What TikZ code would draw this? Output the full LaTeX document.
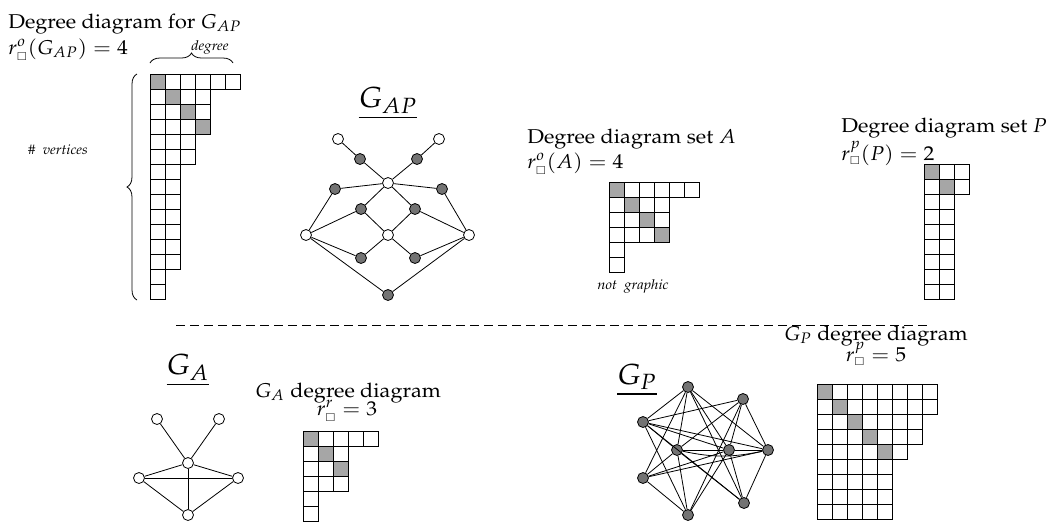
\documentclass[tikz,border=0pt]{standalone}
\usepackage[T1]{fontenc}
\usepackage{mathpazo}
\usepackage{amsmath,amssymb}
\usetikzlibrary{decorations.pathreplacing,calc}

% slightly wide text and the small box of the r index
\newcommand{\hs}[1]{\scalebox{1.08}[1]{#1}}
\newcommand{\sq}{\raisebox{-0.6pt}{\scalebox{0.55}{$\square$}}}

% degree diagram: x, y of top left corner, row lengths, number of diagonal cells
\newcommand{\degdiag}[4]{%
  \foreach \len [count=\r] in {#3} {
    \foreach \c in {1,...,\len}
      \draw[cell] (#1+\c*15-15,#2+\r*15-15) rectangle ++(15,15);
  }
  \foreach \i in {1,...,#4}
    \draw[diagcell] (#1+\i*15-15,#2+\i*15-15) rectangle ++(15,15);
}

\tikzset{
  wv/.style={circle,draw,fill=white,inner sep=0pt,minimum size=5.5pt},
  gv/.style={circle,draw,fill=black!55,inner sep=0pt,minimum size=5.5pt},
  cell/.style={line width=0.4pt},
  diagcell/.style={fill=black!35,line width=0.5pt},
  title/.style={font=\fontsize{10}{12}\selectfont,inner sep=0pt},
  glabel/.style={font=\fontsize{14.5}{16}\selectfont,inner sep=0pt},
  tinytext/.style={font=\fontsize{6.8}{7}\selectfont\itshape,inner sep=0pt},
}

\begin{document}
\begin{tikzpicture}[x=0.5pt,y=-0.5pt]
  \useasboundingbox (0,0) rectangle (1048,521);

  % degree diagram of G_AP
  \node[title,anchor=base west] (tap) at (8,28) {\hs{Degree diagram for $G_{AP}$}};
  \node[title,anchor=base west] (rap) at (8,54) {\hs{$r^{o}_{\sq}(G_{AP}) = 4$}};
  \degdiag{150}{74}{6,4,4,4,3,3,2,2,2,2,2,2,2,1,1}{4}
  \draw[decorate,decoration={brace,amplitude=5pt}] (150,63) -- (233,63);
  \node[tinytext] (deg) at (210,47) {\hs{degree}};
  \draw[decorate,decoration={brace,amplitude=5pt}] (137,300) -- (137,74);
  \node[tinytext] (nv) at (58,150) {\hs{\#\ \ vertices}};

  % graph G_AP
  \node[glabel] (gap) at (388,103) {\hs{\underline{$G_{AP}$}}};
  \node[wv] (tl) at (338,139) {};
  \node[wv] (tr) at (439,139) {};
  \node[gv] (ul) at (360,159) {};
  \node[gv] (ur) at (417,159) {};
  \node[wv] (ct) at (388,183) {};
  \node[gv] (sl) at (335,189) {};
  \node[gv] (sr) at (442,189) {};
  \node[gv] (ml) at (361,209) {};
  \node[gv] (mr) at (415,209) {};
  \node[wv] (lw) at (306,235) {};
  \node[wv] (cw) at (388,235) {};
  \node[wv] (rw) at (469,235) {};
  \node[gv] (ll) at (361,258) {};
  \node[gv] (lr) at (415,258) {};
  \node[gv] (bt) at (388,295) {};
  \foreach \a/\b in {tl/ul,ul/ct,tr/ur,ur/ct,ct/sl,ct/sr,ct/ml,ct/mr,
                     sl/lw,sr/rw,ml/lw,mr/rw,ml/cw,mr/cw,lw/ll,rw/lr,
                     ll/cw,lr/cw,lw/bt,rw/bt}
    \draw (\a) -- (\b);

  % set A
  \node[title,anchor=base west] (ta) at (527,143) {\hs{Degree diagram set $A$}};
  \node[title,anchor=base west] (ra) at (527,168) {\hs{$r^{o}_{\sq}(A) = 4$}};
  \degdiag{609}{182}{6,4,4,4,1,1}{4}
  \node[tinytext] (ng) at (633,286) {\hs{not\ \ graphic}};

  % set P
  \node[title,anchor=base west] (tp) at (841,132) {\hs{Degree diagram set $P$}};
  \node[title,anchor=base west] (rp) at (841,160) {\hs{$r^{p}_{\sq}(P) = 2$}};
  \degdiag{924}{164}{3,3,2,2,2,2,2,2,2}{2}

  \draw[dash pattern=on 4.5pt off 2.5pt] (176,325) -- (931,325);

  % graph G_A
  \node[glabel] (ga) at (188,370) {\hs{\underline{$G_{A}$}}};
  \node[wv] (atl) at (157,419) {};
  \node[wv] (atr) at (219,419) {};
  \node[wv] (ac) at (188,463) {};
  \node[wv] (al) at (139,478) {};
  \node[wv] (ar) at (238,478) {};
  \node[wv] (ab) at (188,515) {};
  \foreach \a/\b in {atl/ac,atr/ac,ac/al,ac/ar,al/ar,ac/ab,al/ab,ar/ab}
    \draw (\a) -- (\b);
  \node[title,anchor=base] (tga) at (348,397) {\hs{$G_{A}$ degree diagram}};
  \node[title,anchor=base] (rga) at (347,415) {\hs{$r^{r}_{\sq} = 3$}};
  \degdiag{303}{431}{5,3,3,3,1,1}{3}

  % graph G_P
  \node[glabel] (gp) at (637,380) {\hs{\underline{$G_{P}$}}};
  \node[gv] (pt) at (688,387) {};
  \node[gv] (pur) at (743,399) {};
  \node[gv] (plu) at (643,422) {};
  \node[gv] (pil) at (677,450) {};
  \node[gv] (pir) at (729,450) {};
  \node[gv] (pr) at (768,450) {};
  \node[gv] (pll) at (643,478) {};
  \node[gv] (plr) at (744,503) {};
  \node[gv] (pb) at (688,515) {};
  \foreach \a/\b in {pt/plu,pt/pil,pt/pir,pt/pr,pt/pll,pt/plr,
                     pur/plu,pur/pil,pur/pir,pur/pr,pur/pb,
                     plu/pil,plu/pir,plu/pr,plu/plr,plu/pb,
                     pil/pir,pil/pll,pil/plr,pil/pb,
                     pir/pr,pir/pll,pir/plr,pir/pb,
                     pr/pll,pr/plr,pll/pb}
    \draw (\a) -- (\b);
  \draw (pil) to[bend right=12] (pr);
  \node[title,anchor=base] (tgp) at (876,340) {\hs{$G_{P}$ degree diagram}};
  \node[title,anchor=base] (rgp) at (876,361) {\hs{$r^{p}_{\sq} = 5$}};
  \degdiag{817}{384}{8,8,7,7,6,5,5,5,5}{5}
\end{tikzpicture}
\end{document}
